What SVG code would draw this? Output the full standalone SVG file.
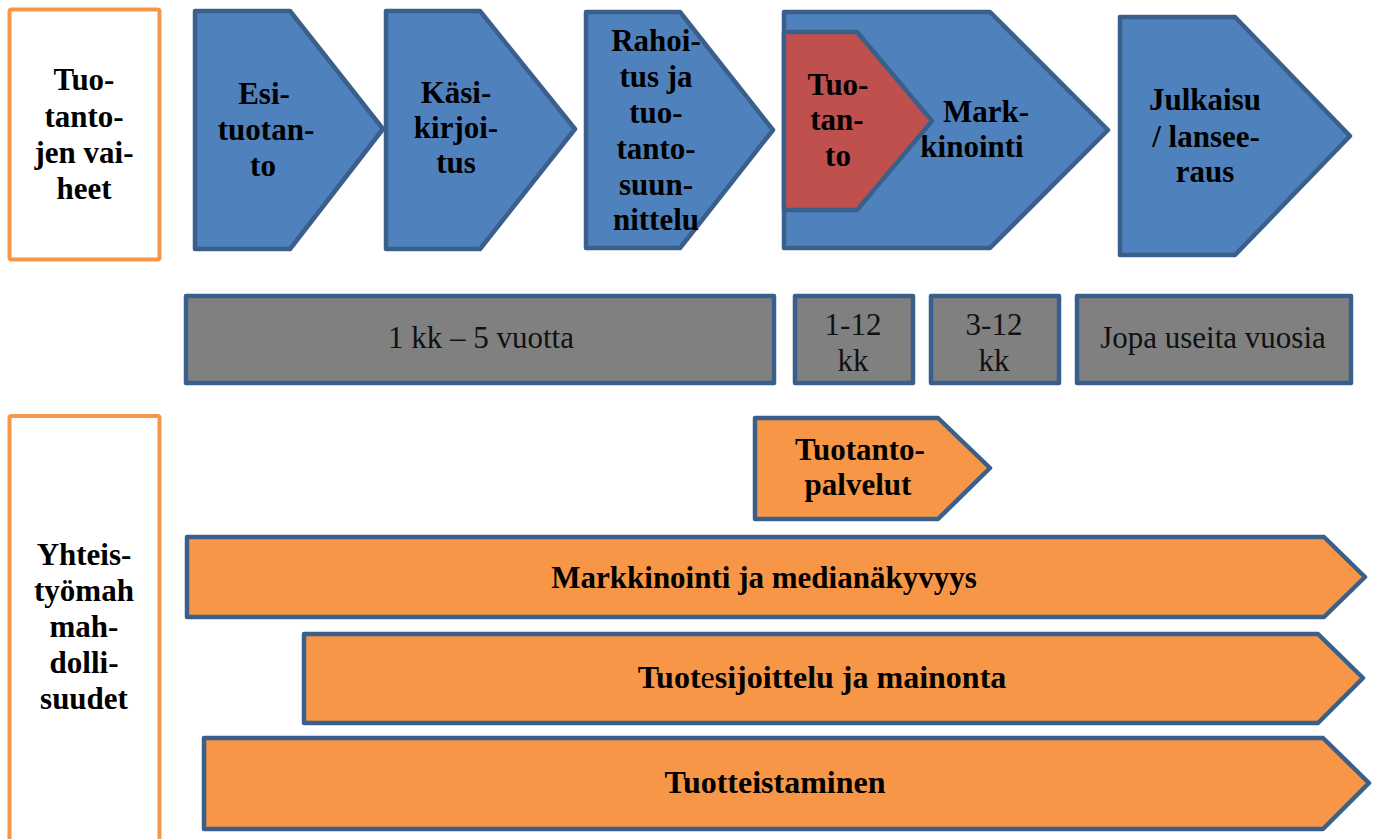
<svg xmlns="http://www.w3.org/2000/svg" width="1378" height="839" viewBox="0 0 1378 839">
<style>
.lbl{fill:none;stroke:#F79646;stroke-width:4}
.blue{fill:#4F81BD;stroke:#3A5F8B;stroke-width:4.5;stroke-linejoin:round}
.red{fill:#C0504D;stroke:#3A5F8B;stroke-width:4.5;stroke-linejoin:round}
.gray{fill:#808080;stroke:#3A5F8B;stroke-width:4.5;stroke-linejoin:round}
.org{fill:#F79646;stroke:#3A5F8B;stroke-width:4.5;stroke-linejoin:round}
.b{font-weight:bold;font-size:31px;fill:#000;text-anchor:middle}
.bb{font-weight:bold;font-size:32px;fill:#000;text-anchor:middle}
.r{font-size:31px;fill:#111;text-anchor:middle}
</style>
<rect width="1378" height="839" fill="#fff"/>

<g font-family="'Liberation Serif', 'DejaVu Serif', serif">
<g id="label-phases">
<rect class="lbl" x="9.5" y="9.5" width="150" height="250" rx="2"/>
<text class="b" x="84" y="90">Tuo-</text>
<text class="b" x="84" y="127">tanto-</text>
<text class="b" x="84" y="163">jen vai-</text>
<text class="b" x="84" y="199">heet</text>
</g>

<g id="label-coop">
<rect class="lbl" x="9.5" y="416" width="150" height="430" rx="2"/>
<text class="b" x="84" y="565">Yhteis-</text>
<text class="b" x="84" y="601">työmah</text>
<text class="b" x="84" y="637">mah-</text>
<text class="b" x="84" y="673">dolli-</text>
<text class="b" x="84" y="709">suudet</text>
</g>

<g id="esituotanto">
<polygon class="blue" points="195,11 290,11 383,129 290,249 195,249"/>
<text class="b" x="264" y="104">Esi-</text>
<text class="b" x="266" y="140">tuotan-</text>
<text class="b" x="263" y="176">to</text>
</g>

<g id="kasikirjoitus">
<polygon class="blue" points="386,11 480,11 575,129 480,249 386,249"/>
<text class="b" x="456" y="103">Käsi-</text>
<text class="b" x="456" y="138">kirjoi-</text>
<text class="b" x="456" y="173">tus</text>
</g>

<g id="rahoitus">
<polygon class="blue" points="586,12 680,12 773,130 680,248 586,248"/>
<text class="b" x="656" y="51">Rahoi-</text>
<text class="b" x="656" y="87">tus ja</text>
<text class="b" x="656" y="123">tuo-</text>
<text class="b" x="656" y="159">tanto-</text>
<text class="b" x="656" y="195">suun-</text>
<text class="b" x="656" y="230">nittelu</text>
</g>

<g id="markkinointi">
<polygon class="blue" points="784,12 990,12 1108,130 990,248 784,248"/>
<text class="b" x="986" y="122">Mark-</text>
<text class="b" x="972" y="157">kinointi</text>
</g>

<g id="tuotanto">
<polygon class="red" points="784,32 857,32 932,121 857,210 784,210"/>
<text class="b" x="838" y="95">Tuo-</text>
<text class="b" x="837" y="130">tan-</text>
<text class="b" x="838" y="166">to</text>
</g>

<g id="julkaisu">
<polygon class="blue" points="1120,17 1235,17 1350,136 1235,255 1120,255"/>
<text class="b" x="1205" y="110">Julkaisu</text>
<text class="b" x="1206" y="147">/ lansee-</text>
<text class="b" x="1205" y="182">raus</text>
</g>

<g id="dur-1kk-5v">
<rect class="gray" x="186" y="296" width="588" height="87"/>
<text class="r" x="481" y="348">1 kk – 5 vuotta</text>
</g>
<g id="dur-1-12kk">
<rect class="gray" x="795" y="296" width="118" height="87"/>
<text class="r" x="853" y="335">1-12</text>
<text class="r" x="853" y="371">kk</text>
</g>
<g id="dur-3-12kk">
<rect class="gray" x="931" y="296" width="128" height="87"/>
<text class="r" x="994" y="335">3-12</text>
<text class="r" x="994" y="371">kk</text>
</g>
<g id="dur-jopa">
<rect class="gray" x="1077" y="296" width="274" height="87"/>
<text class="r" x="1213" y="348">Jopa useita vuosia</text>
</g>

<g id="tuotantopalvelut">
<polygon class="org" points="755,418 938,418 990,468 938,519 755,519"/>
<text class="b" x="860" y="460">Tuotanto-</text>
<text class="b" x="858" y="495">palvelut</text>
</g>

<g id="markkinointi-media">
<polygon class="org" points="187,537 1324,537 1365,577 1324,617 187,617"/>
<text class="b" x="764" y="588">Markkinointi ja medianäkyvyys</text>
</g>

<g id="tuotesijoittelu">
<polygon class="org" points="304,634 1318,634 1363,678 1318,723 304,723"/>
<text class="bb" x="822" y="688">Tuot<tspan font-weight="normal">e</tspan>sijoittelu ja mainonta</text>
</g>

<g id="tuotteistaminen">
<polygon class="org" points="204,738 1323,738 1369,783 1323,829 204,829"/>
<text class="bb" x="775" y="793">Tuotteistaminen</text>
</g>
</g>

<g id="connectors"></g>
</svg>
